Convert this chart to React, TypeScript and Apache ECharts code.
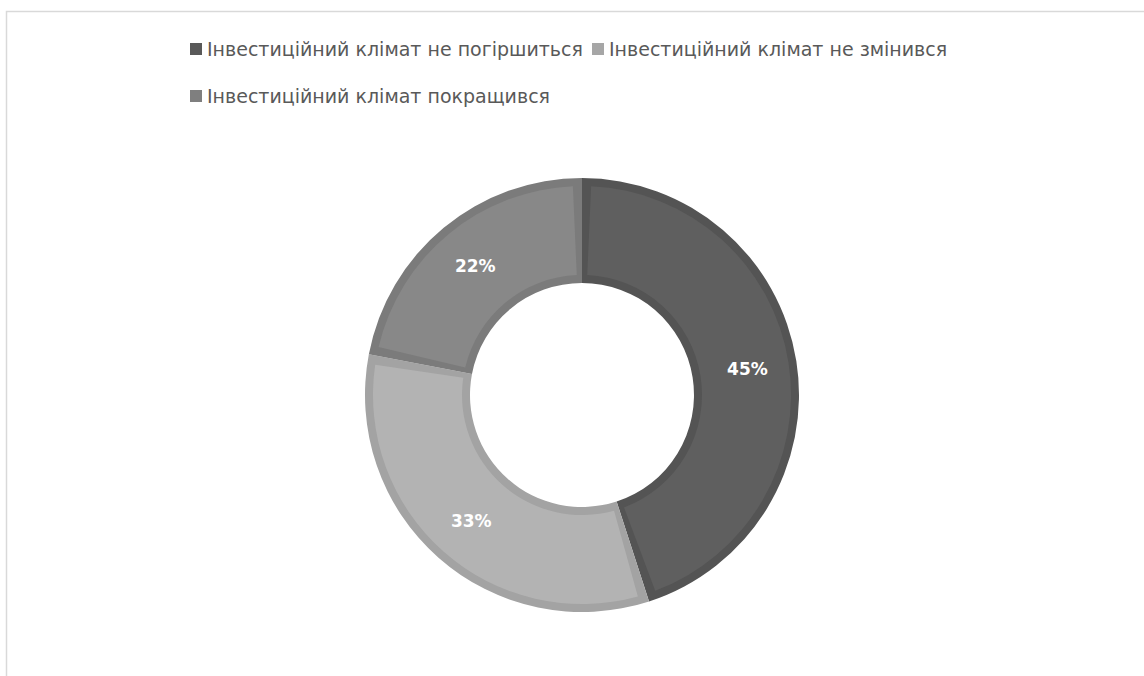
import React, { useEffect, useRef } from "react";
import * as echarts from "echarts";

const categories = [
  "Інвестиційний клімат не погіршиться",
  "Інвестиційний клімат не змінився",
  "Інвестиційний клімат покращився",
];
const values = [45, 33, 22];
const fillColors = ["#5f5f5f", "#b3b3b3", "#888888"];
const edgeColors = ["#545454", "#a3a3a3", "#7b7b7b"];
const legendColors = ["#595959", "#a6a6a6", "#7f7f7f"];

export default function App() {
  const ref = useRef<HTMLDivElement>(null);
  useEffect(() => {
    if (!ref.current) return;
    const chart = echarts.init(ref.current, undefined, { renderer: "svg" });
    const font = "DejaVu Sans";
    const legendText = { color: "#595959", fontSize: 19, fontFamily: font, lineHeight: 20 };
    const legendPos = [
      { left: 190, top: 39 },
      { left: 592, top: 39 },
      { left: 190, top: 86 },
    ];
    chart.setOption({
      animation: false,
      backgroundColor: "#ffffff",
      graphic: [
        {
          type: "rect",
          shape: { x: 6.5, y: 11.5, width: 1200, height: 700 },
          style: { fill: "none", stroke: "#d9d9d9", lineWidth: 1.5 },
          silent: true,
        },
      ],
      legend: categories.map((name, i) => ({
        left: legendPos[i].left,
        top: legendPos[i].top,
        padding: 0,
        itemWidth: 12,
        itemHeight: 12,
        icon: "rect",
        selectedMode: false,
        textStyle: legendText,
        data: [{ name, itemStyle: { color: legendColors[i] } }],
      })),
      series: [
        {
          type: "pie",
          silent: true,
          center: [582, 395],
          radius: [112, 217],
          startAngle: 90,
          label: { show: false },
          labelLine: { show: false },
          data: categories.map((name, i) => ({
            name,
            value: values[i],
            itemStyle: { color: edgeColors[i] },
          })),
        },
        {
          type: "pie",
          silent: true,
          center: [582, 395],
          radius: [120, 209],
          startAngle: 90,
          padAngle: 5,
          label: {
            show: true,
            position: "inside",
            formatter: "{c}%",
            color: "#ffffff",
            fontSize: 17,
            fontWeight: "bold",
            fontFamily: font,
          },
          labelLine: { show: false },
          data: categories.map((name, i) => ({
            name,
            value: values[i],
            itemStyle: { color: fillColors[i] },
          })),
        },
      ],
    });
    return () => chart.dispose();
  }, []);
  return (
    <div
      ref={ref}
      style={{ position: "fixed", left: 0, top: 0, width: 1144, height: 676 }}
    />
  );
}
